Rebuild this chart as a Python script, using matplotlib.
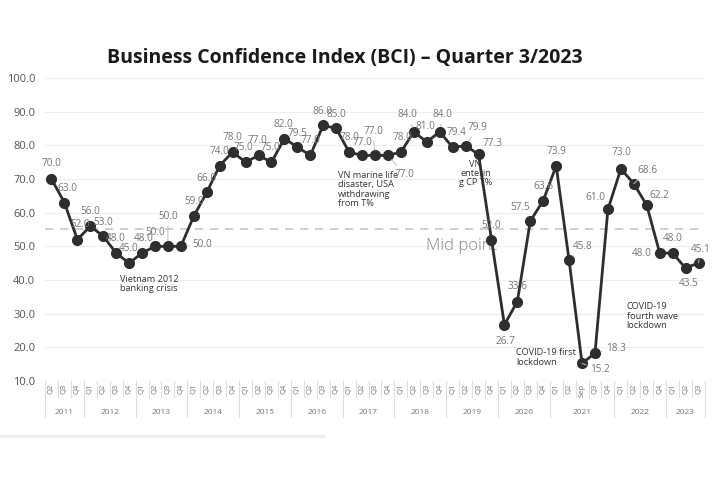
import matplotlib
matplotlib.use("Agg")
import matplotlib.pyplot as plt
from matplotlib.lines import Line2D

# --- Datos ---
years = ["2011", "2012", "2013", "2014", "2015", "2016", "2017",
         "2018", "2019", "2020", "2021", "2022", "2023"]
quarters = [
    ["Q2", "Q3", "Q4"],
    ["Q1", "Q2", "Q3", "Q4"],
    ["Q1", "Q2", "Q3", "Q4"],
    ["Q1", "Q2", "Q3", "Q4"],
    ["Q1", "Q2", "Q3", "Q4"],
    ["Q1", "Q2", "Q3", "Q4"],
    ["Q1", "Q2", "Q3", "Q4"],
    ["Q1", "Q2", "Q3", "Q4"],
    ["Q1", "Q2", "Q3", "Q4"],
    ["Q1", "Q2", "Q3", "Q4"],
    ["Q1", "Q2", "Sep", "Q3", "Q4"],
    ["Q1", "Q2", "Q3", "Q4"],
    ["Q1", "Q2", "Q3"],
]
bci = [70.0, 63.0, 52.0,
       56.0, 53.0, 48.0, 45.0,
       48.0, 50.0, 50.0, 50.0,
       59.0, 66.0, 74.0, 78.0,
       75.0, 77.0, 75.0, 82.0,
       79.5, 77.0, 86.0, 85.0,
       78.0, 77.0, 77.0, 77.0,
       78.0, 84.0, 81.0, 84.0,
       79.4, 79.9, 77.3, 52.0,
       26.7, 33.6, 57.5, 63.6,
       73.9, 45.8, 15.2, 18.3, 61.0,
       73.0, 68.6, 62.2, 48.0,
       48.0, 43.5, 45.1]
mid_point = 55.0
notes = [
    (6, "Vietnam 2012\nbanking crisis"),
    (25, "VN marine life\ndisaster, USA\nwithdrawing\nfrom T%"),
    (33, "VN\nenterin\ng CP T%"),
    (41, "COVID-19 first\nlockdown"),
    (47, "COVID-19\nfourth wave\nlockdown"),
]

# --- Desplazamientos de etiquetas (pixeles) y si llevan linea guia ---
offsets = [(0, 15), (3, 14), (3, 15), (0, 15), (0, 14), (0, 15), (0, 15),
           (2, 15), (0, 14), (0, 30), (21, 2), (0, 15), (0, 14), (0, 14),
           (0, 15), (-2, 15), (-1, 15), (-1, 15), (-1, 14), (0, 14), (0, 15),
           (-1, 14), (0, 14), (0, 15), (0, 13), (-2, 24), (17, -19), (2, 15),
           (-6, 17), (-1, 15), (3, 17), (4, 15), (12, 18), (14, 11), (0, 14),
           (1, -17), (0, 15), (-10, 14), (0, 14), (0, 14), (14, 14), (18, -6),
           (21, 5), (-13, 12), (1, 16), (14, 13), (12, 10), (-18, 0), (0, 15),
           (3, -15), (2, 13)]
leaders = {9, 10, 25, 26, 28, 30, 32, 37, 40, 41, 42, 45, 50}

labels = [q for qs in quarters for q in qs]
x = list(range(len(bci)))

plt.rcParams['font.family'] = ['Open Sans', 'DejaVu Sans']

fig = plt.figure(figsize=(7.2, 4.8), dpi=100)
ax = fig.add_axes([45 / 720, 1 - 381 / 480, 660 / 720, 303 / 480])

ax.set_xlim(-0.5, len(bci) - 0.5)
ax.set_ylim(10, 100)
for s in ax.spines.values():
    s.set_visible(False)

ax.set_yticks(range(10, 101, 10))
ax.set_yticklabels([f"{v:.1f}" for v in range(10, 101, 10)])
ax.tick_params(axis='y', length=0, pad=7, labelsize=8, labelcolor='#555555')
ax.grid(axis='y', color='#eeeeee', lw=0.8)
ax.set_axisbelow(True)

ax.set_xticks(x)
ax.set_xticklabels(labels, rotation=90, fontsize=5.5, color='#777777')
ax.tick_params(axis='x', length=0, pad=2)

# --- Separadores de trimestres y anos ---
tr = ax.get_xaxis_transform()
pos = -0.5
for y, qs in zip(years, quarters):
    ax.plot([pos, pos], [0, -0.12], transform=tr, color='#dddddd', lw=0.8, clip_on=False)
    for k in range(1, len(qs)):
        ax.plot([pos + k, pos + k], [0, -0.053], transform=tr, color='#dddddd', lw=0.8, clip_on=False)
    ax.text(pos + len(qs) / 2, -0.105, y, transform=tr, ha='center', va='center',
            fontsize=6, color='#777777')
    pos += len(qs)
ax.plot([pos, pos], [0, -0.12], transform=tr, color='#dddddd', lw=0.8, clip_on=False)

# --- Linea media ---
ax.axhline(mid_point, color='#c8c8c8', lw=1.2, ls=(0, (5, 4)))
ax.annotate("Mid point", (31.7, mid_point), xytext=(0, -16), textcoords='offset pixels',
            ha='center', va='center', fontsize=12, color='#8a8a8a', fontweight='light')

# --- Serie ---
ax.plot(x, bci, color='#2e2e2e', lw=2, marker='o', ms=7, zorder=3)

for i, v in enumerate(bci):
    dx, dy = offsets[i]
    arrow = dict(arrowstyle='-', color='#bbbbbb', lw=0.7, shrinkA=1, shrinkB=4) if i in leaders else None
    ax.annotate(f"{v:.1f}", (i, v), xytext=(dx, dy), textcoords='offset pixels',
                ha='center', va='center', fontsize=7.2, color='#777777',
                arrowprops=arrow, zorder=4)

# --- Notas ---
note_pos = {6: (20, -21), 25: (-37, -34), 33: (-3, -19), 41: (-66, 6), 47: (-33, -63)}
for i, txt in notes:
    dx, dy = note_pos[i]
    ax.annotate(txt, (i, bci[i]), xytext=(dx, dy), textcoords='offset pixels',
                ha='left' if i in (25, 41, 47) else 'center', va='center',
                fontsize=6.6, color='#333333', linespacing=1.05)

fig.text(345 / 720, 1 - 58 / 480, "Business Confidence Index (BCI) \u2013 Quarter 3/2023",
         ha='center', va='center', fontsize=14, fontweight='bold', color='#1a1a1a')

fig.add_artist(Line2D([0, 323 / 720], [1 - 436 / 480] * 2, color='#eeeeee', lw=2.5))

fig.savefig("out.png", dpi=100, facecolor='white')
